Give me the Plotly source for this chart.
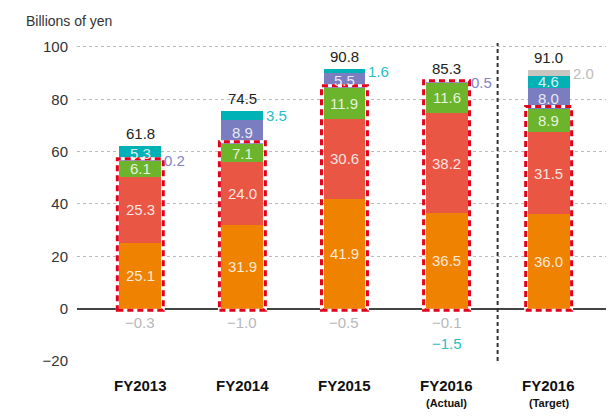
import plotly.graph_objects as go

categories = ["FY2013", "FY2014", "FY2015", "FY2016", "FY2016"]
subtitles = ["", "", "", "(Actual)", "(Target)"]
seg_a = [25.1, 31.9, 41.9, 36.5, 36.0]   # orange
seg_b = [25.3, 24.0, 30.6, 38.2, 31.5]   # red
seg_c = [6.1, 7.1, 11.9, 11.6, 8.9]      # green
seg_d = [0.2, 8.9, 5.5, 0.5, 8.0]        # purple
seg_e = [5.3, 3.5, 1.6, -1.5, 4.6]       # teal
seg_f = [-0.3, -1.0, -0.5, -0.1, 2.0]    # gray
totals = [61.8, 74.5, 90.8, 85.3, 91.0]
y_ticks = [-20, 0, 20, 40, 60, 80, 100]

series = [
    (seg_a, "#EF8200", "rgba(255,255,255,0.85)"),
    (seg_b, "#E95744", "rgba(255,255,255,0.85)"),
    (seg_c, "#6BB42C", "rgba(255,255,255,0.85)"),
    (seg_d, "#7A7DBF", "#8284C8"),
    (seg_e, "#00B1B6", "#27BEC3"),
    (seg_f, "#C9C5C1", "#BDBDBD"),
]

FONT = "Liberation Sans, Arial, sans-serif"
BAR_W = 0.41
xs = list(range(len(categories)))

fig = go.Figure()
annotations = []
cum = [0.0] * len(xs)
for vals, color, out_color in series:
    pos_vals = [v if v > 0 else None for v in vals]
    fig.add_trace(go.Bar(x=xs, y=pos_vals, marker=dict(color=color, line=dict(width=0)),
                         width=BAR_W, showlegend=False, hoverinfo="skip"))
    for i, v in enumerate(vals):
        if v > 0:
            mid = cum[i] + v / 2
            if v >= 4:
                annotations.append(dict(x=i, y=mid, text=f"{v:.1f}", showarrow=False,
                                        font=dict(family=FONT, size=15, color="rgba(255,255,255,0.85)")))
            else:
                annotations.append(dict(x=i + BAR_W / 2, y=mid, text=f"{v:.1f}", showarrow=False,
                                        xanchor="left", xshift=1,
                                        font=dict(family=FONT, size=15, color=out_color)))
            cum[i] += v

# negative labels
neg_rows = {}
for vals, out_color in [(seg_f, "#B8B8B8"), (seg_e, "#27BEC3")]:
    for i, v in enumerate(vals):
        if v < 0:
            row = neg_rows.get(i, 0)
            annotations.append(dict(x=i, y=0, text=f"\u2212{abs(v):.1f}", showarrow=False,
                                    yanchor="middle", yshift=-14 - 21 * row,
                                    font=dict(family=FONT, size=15, color=out_color)))
            neg_rows[i] = row + 1

# totals
for i, t in enumerate(totals):
    annotations.append(dict(x=i, y=cum[i], text=f"{t:.1f}", showarrow=False,
                            yanchor="bottom", yshift=2,
                            font=dict(family=FONT, size=15, color="#222222")))

# category labels
for i, (c, s) in enumerate(zip(categories, subtitles)):
    annotations.append(dict(x=i, y=0, yref="paper", text=f"<b>{c}</b>", showarrow=False,
                            yanchor="middle", yshift=-24,
                            font=dict(family=FONT, size=15, color="#111111")))
    if s:
        annotations.append(dict(x=i, y=0, yref="paper", text=f"<b>{s}</b>", showarrow=False,
                                yanchor="middle", yshift=-42,
                                font=dict(family=FONT, size=11, color="#111111")))

annotations.append(dict(x=-0.098, y=1.0, xref="paper", yref="paper", xanchor="left",
                        yanchor="bottom", yshift=12, text="Billions of yen", showarrow=False,
                        font=dict(family=FONT, size=14, color="#333333")))

shapes = []
# red dashed boxes around the first three segments
for i in xs:
    top = seg_a[i] + seg_b[i] + seg_c[i]
    for lc, dash in [("white", "solid"), ("#E2001A", "6px,4px")]:
        shapes.append(dict(type="rect", xref="x", yref="y",
                           x0=i - 0.225, x1=i + 0.225, y0=-0.6, y1=top + 0.8,
                           line=dict(color=lc, width=3, dash=dash), layer="above"))

# separator between actual and target
shapes.append(dict(type="line", xref="x", yref="y", x0=3.5, x1=3.5, y0=-20, y1=101.5,
                   line=dict(color="#333333", width=2, dash="4px,3px")))

fig.update_layout(
    width=606, height=409,
    margin=dict(l=69, r=0, t=35, b=56),
    barmode="relative", bargap=0,
    plot_bgcolor="white", paper_bgcolor="white",
    annotations=annotations, shapes=shapes,
    font=dict(family=FONT, color="#333333"),
    xaxis=dict(range=[-0.62, 4.64], showticklabels=False, showgrid=False, zeroline=False,
               fixedrange=True),
    yaxis=dict(range=[-20, 101.5], tickvals=y_ticks,
               ticktext=[("\u2212" + str(abs(v))) if v < 0 else str(v) for v in y_ticks],
               showgrid=True, gridcolor="#BBBBBB", griddash="dot", gridwidth=1,
               zeroline=True, zerolinecolor="#444444", zerolinewidth=1.5,
               tickfont=dict(family=FONT, size=15, color="#333333"),
               ticklabelstandoff=8, fixedrange=True),
)

fig.write_html("out.html")
